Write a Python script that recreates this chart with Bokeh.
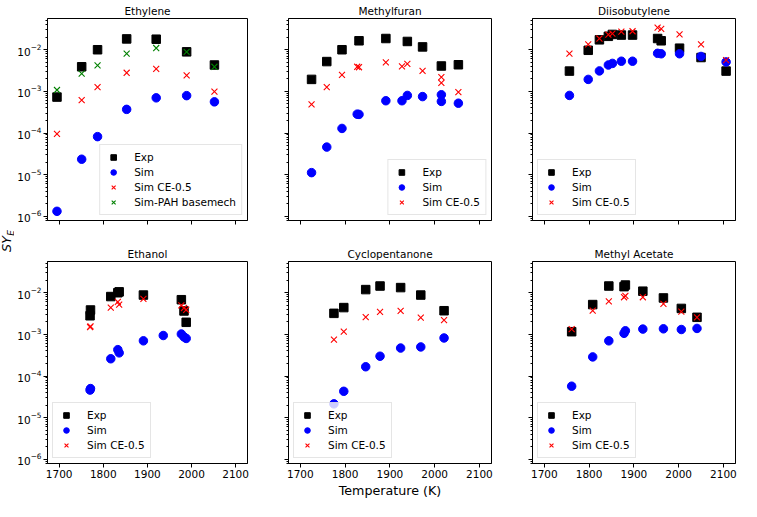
import math
from bokeh.plotting import figure
from bokeh.layouts import column, row
from bokeh.models import FixedTicker, Range1d, Label
from bokeh.embed import file_html
from bokeh.resources import INLINE

# ---------------- data ----------------
ethylene_T = [1695, 1751, 1787, 1853, 1920, 1989, 2052]
ethylene_exp = [7.3e-4, 3.9e-3, 1.0e-2, 1.82e-2, 1.79e-2, 8.9e-3, 4.3e-3]
ethylene_sim = [1.32e-6, 2.35e-5, 8.2e-5, 3.7e-4, 7.0e-4, 7.9e-4, 5.6e-4]
ethylene_ce = [9.5e-5, 6.2e-4, 1.27e-3, 2.8e-3, 3.47e-3, 2.43e-3, 9.9e-4]
ethylene_pah = [1.08e-3, 2.66e-3, 4.2e-3, 8.1e-3, 1.1e-2, 8.9e-3, 3.9e-3]

methylfuran_T_exp = [1725, 1759, 1793, 1831, 1891, 1939, 1973, 2015, 2053]
methylfuran_exp = [1.94e-3, 5.2e-3, 1.0e-2, 1.64e-2, 1.86e-2, 1.58e-2, 1.17e-2, 4.07e-3, 4.36e-3]
methylfuran_T_sim = [1725, 1759, 1793, 1827, 1831, 1891, 1927, 1939, 1973, 2015, 2015, 2053]
methylfuran_sim = [1.12e-5, 4.6e-5, 1.29e-4, 2.84e-4, 2.8e-4, 5.96e-4, 5.96e-4, 8.0e-4, 7.5e-4, 8.3e-4, 5.75e-4, 5.2e-4]
methylfuran_ce = [4.9e-4, 1.27e-3, 2.5e-3, 3.9e-3, 3.8e-3, 5.0e-3, 4.0e-3, 4.6e-3, 3.1e-3, 2.2e-3, 1.6e-3, 9.6e-4]

diisobutylene_T = [1756, 1798, 1823, 1843, 1852, 1872, 1897, 1953, 1961, 2002, 2050, 2106]
diisobutylene_exp = [3.07e-3, 9.7e-3, 1.73e-2, 2.1e-2, 2.33e-2, 2.25e-2, 2.25e-2, 1.86e-2, 1.64e-2, 1.09e-2, 6.5e-3, 3.07e-3]
diisobutylene_sim = [8.0e-4, 1.94e-3, 3.1e-3, 4.3e-3, 4.7e-3, 5.3e-3, 5.3e-3, 8.2e-3, 8.0e-3, 8.0e-3, 6.9e-3, 5.1e-3]
diisobutylene_ce = [8.1e-3, 1.35e-2, 1.86e-2, 2.3e-2, 2.45e-2, 2.73e-2, 2.78e-2, 3.38e-2, 3.16e-2, 2.33e-2, 1.35e-2, 5.6e-3]

ethanol_T = [1770, 1771, 1817, 1833, 1836, 1891, 1977, 1983, 1988]
ethanol_exp = [2.8e-3, 3.85e-3, 8.1e-3, 1.0e-2, 1.05e-2, 8.8e-3, 6.8e-3, 3.65e-3, 1.95e-3]
ethanol_T_sim = [1770, 1771, 1817, 1833, 1836, 1891, 1936, 1977, 1983, 1988]
ethanol_sim = [4.6e-5, 5.0e-5, 2.6e-4, 4.3e-4, 3.6e-4, 7.0e-4, 9.4e-4, 1.02e-3, 8.7e-4, 8.0e-4]
ethanol_ce = [1.5e-3, 1.55e-3, 4.4e-3, 6.0e-3, 5.2e-3, 7.1e-3, 5.0e-3, 4.3e-3, 3.9e-3]

cyclopentanone_T = [1775, 1797, 1846, 1878, 1924, 1969, 2021]
cyclopentanone_exp = [3.2e-3, 4.4e-3, 1.19e-2, 1.45e-2, 1.33e-2, 8.8e-3, 3.7e-3]
cyclopentanone_sim = [2.15e-5, 4.3e-5, 1.67e-4, 2.99e-4, 4.7e-4, 5.0e-4, 8.2e-4]
cyclopentanone_ce = [7.5e-4, 1.16e-3, 2.6e-3, 3.47e-3, 3.65e-3, 2.52e-3, 2.2e-3]

methylacetate_T = [1761, 1808, 1844, 1878, 1881, 1920, 1966, 2006, 2041]
methylacetate_exp = [1.16e-3, 5.2e-3, 1.45e-2, 1.4e-2, 1.53e-2, 1.09e-2, 7.5e-3, 4.2e-3, 2.57e-3]
methylacetate_sim = [5.7e-5, 2.88e-4, 7.0e-4, 1.06e-3, 1.22e-3, 1.34e-3, 1.36e-3, 1.31e-3, 1.39e-3]
methylacetate_ce = [1.34e-3, 3.7e-3, 6.2e-3, 7.8e-3, 8.4e-3, 7.8e-3, 5.4e-3, 3.5e-3, 2.57e-3]

x_ticks = [1700, 1800, 1900, 2000, 2100]
y_major = [10.0 ** e for e in range(-6, 0)]
y_minor = [k * 10.0 ** e for e in range(-7, 0) for k in range(2, 10)]

# ---------------- layout constants ----------------
FONT = "DejaVu Sans"
X0, X1 = 1673.5, 2127.0
LY0, LY1 = -6.10, -1.25
FW, FH = 203, 203
LAB_W = 14
TOP_H = 17 + FH + 6
BOT_H = 35 + FH + 36


def add_series(p, xs, ys, label, kind):
    if kind == "exp":
        p.scatter(xs, ys, marker="square", size=8.5, fill_color="black",
                  line_color="black", legend_label=label)
    elif kind == "sim":
        p.scatter(xs, ys, marker="circle", size=8.5, fill_color="blue",
                  line_color="blue", legend_label=label)
    elif kind == "ce":
        p.scatter(xs, ys, marker="x", size=8.5, line_color="red",
                  line_width=1.1, legend_label=label)
    else:
        p.scatter(xs, ys, marker="x", size=8.5, line_color="green",
                  line_width=1.1, legend_label=label)


def make(title, col, rowi, series, legend_loc, xlabel=None):
    left = 30 if col == 0 else 36
    top = 17 if rowi == 0 else 35
    bottom = 6 if rowi == 0 else 36
    p = figure(width=left + FW + 5, height=top + FH + bottom,
               y_axis_type="log",
               x_range=Range1d(X0, X1),
               y_range=Range1d(10 ** LY0, 10 ** LY1),
               output_backend="svg", toolbar_location=None,
               min_border_left=left, min_border_right=5,
               min_border_top=top, min_border_bottom=bottom,
               title=title)
    p.title.align = "center"
    p.title.text_font = FONT
    p.title.text_font_size = "10.5px"
    p.title.text_font_style = "normal"
    p.title.text_color = "black"
    p.title.standoff = 4
    p.xgrid.visible = False
    p.ygrid.visible = False
    p.outline_line_color = "black"
    p.outline_line_alpha = 1
    p.outline_line_width = 1
    p.background_fill_color = "white"
    p.border_fill_color = "white"

    for xs, ys, label, kind in series:
        add_series(p, xs, ys, label, kind)

    for ax in (p.xaxis[0], p.yaxis[0]):
        ax.axis_line_color = "black"
        ax.major_tick_line_color = "black"
        ax.minor_tick_line_color = "black"
        ax.major_tick_in = 0
        ax.major_tick_out = 4
        ax.minor_tick_in = 0
        ax.minor_tick_out = 2
        ax.major_label_text_font = FONT
        ax.major_label_text_font_size = "10.5px"
        ax.major_label_text_color = "black"
        ax.major_label_standoff = 2

    p.xaxis.ticker = FixedTicker(ticks=x_ticks, minor_ticks=[])
    p.yaxis.ticker = FixedTicker(ticks=y_major, minor_ticks=y_minor)

    # shared axes: inner panels keep their ticks but do not show the labels
    if rowi == 0:
        p.xaxis.major_label_text_color = None
        p.xaxis.major_label_text_font_size = "1px"
        p.xaxis.major_label_standoff = 0
    if col != 0:
        p.yaxis.major_label_text_color = None
        p.yaxis.major_label_text_font_size = "1px"
        p.yaxis.major_label_standoff = 0

    if xlabel:
        p.xaxis.axis_label = xlabel
        p.xaxis.axis_label_text_font = FONT
        p.xaxis.axis_label_text_font_size = "12.7px"
        p.xaxis.axis_label_text_font_style = "normal"
        p.xaxis.axis_label_text_color = "black"
        p.xaxis.axis_label_standoff = 2

    lg = p.legend[0]
    lg.location = legend_loc
    lg.margin = 5
    lg.padding = 5
    lg.spacing = 1
    lg.label_height = 14
    lg.glyph_height = 14
    lg.glyph_width = 16
    lg.label_standoff = 13
    lg.label_text_font = FONT
    lg.label_text_font_size = "10.5px"
    lg.label_text_color = "black"
    lg.border_line_color = "#cccccc"
    lg.border_line_width = 1
    lg.background_fill_color = "white"
    lg.background_fill_alpha = 0.8
    return p


p1 = make("Ethylene", 0, 0, [
    (ethylene_T, ethylene_exp, "Exp", "exp"),
    (ethylene_T, ethylene_sim, "Sim", "sim"),
    (ethylene_T, ethylene_ce, "Sim CE-0.5", "ce"),
    (ethylene_T, ethylene_pah, "Sim-PAH basemech", "pah"),
], "bottom_right")

p2 = make("Methylfuran", 1, 0, [
    (methylfuran_T_exp, methylfuran_exp, "Exp", "exp"),
    (methylfuran_T_sim, methylfuran_sim, "Sim", "sim"),
    (methylfuran_T_sim, methylfuran_ce, "Sim CE-0.5", "ce"),
], "bottom_right")

p3 = make("Diisobutylene", 2, 0, [
    (diisobutylene_T, diisobutylene_exp, "Exp", "exp"),
    (diisobutylene_T, diisobutylene_sim, "Sim", "sim"),
    (diisobutylene_T, diisobutylene_ce, "Sim CE-0.5", "ce"),
], "bottom_left")

p4 = make("Ethanol", 0, 1, [
    (ethanol_T, ethanol_exp, "Exp", "exp"),
    (ethanol_T_sim, ethanol_sim, "Sim", "sim"),
    (ethanol_T, ethanol_ce, "Sim CE-0.5", "ce"),
], "bottom_left")

p5 = make("Cyclopentanone", 1, 1, [
    (cyclopentanone_T, cyclopentanone_exp, "Exp", "exp"),
    (cyclopentanone_T, cyclopentanone_sim, "Sim", "sim"),
    (cyclopentanone_T, cyclopentanone_ce, "Sim CE-0.5", "ce"),
], "bottom_left", xlabel="Temperature (K)")

p6 = make("Methyl Acetate", 2, 1, [
    (methylacetate_T, methylacetate_exp, "Exp", "exp"),
    (methylacetate_T, methylacetate_sim, "Sim", "sim"),
    (methylacetate_T, methylacetate_ce, "Sim CE-0.5", "ce"),
], "bottom_left")

# narrow strip on the left that carries the shared y-axis label "SY_E"
total_h = TOP_H + BOT_H
lab = figure(width=LAB_W, height=total_h, x_range=Range1d(0, LAB_W),
             y_range=Range1d(0, total_h), x_axis_location=None,
             y_axis_location=None, output_backend="svg", toolbar_location=None,
             min_border=0)
lab.outline_line_color = None
lab.xgrid.visible = False
lab.ygrid.visible = False
mid = BOT_H - 35 + 20.5          # halfway between the two rows of frames, from the bottom
lab.add_layout(Label(x=6, y=mid - 3, text="SY", angle=math.pi / 2,
                     text_align="center", text_baseline="middle",
                     text_font=FONT, text_font_size="12.7px",
                     text_font_style="italic", text_color="black"))
lab.add_layout(Label(x=10, y=mid + 8, text="E", angle=math.pi / 2,
                     text_align="center", text_baseline="middle",
                     text_font=FONT, text_font_size="9px",
                     text_font_style="italic", text_color="black"))

layout = row(lab, column(row(p1, p2, p3), row(p4, p5, p6)))

with open("out.html", "w") as f:
    f.write(file_html(layout, INLINE))
